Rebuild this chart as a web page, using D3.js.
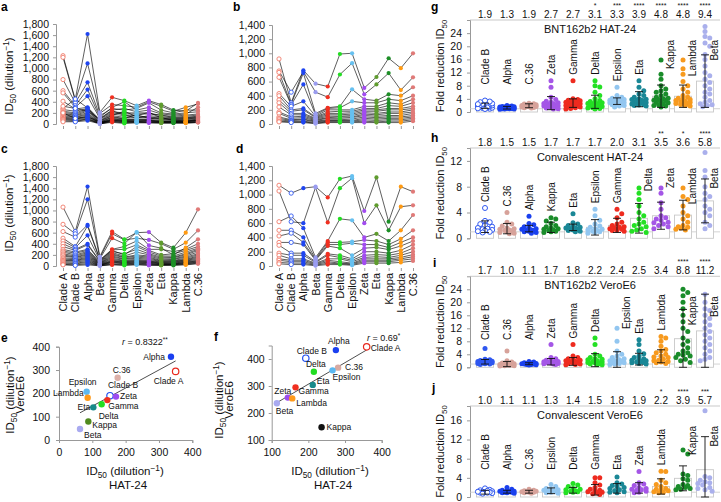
<!DOCTYPE html>
<html><head><meta charset="utf-8">
<script src="https://cdn.jsdelivr.net/npm/d3@7"></script>
<style>body{margin:0;background:#fff}svg{font-family:"Liberation Sans",Arial,Helvetica,sans-serif}</style>
</head><body><svg id="c" width="721" height="502"></svg>
<script>
// ---------------- DATA ----------------
const variants = ["Clade A","Clade B","Alpha","Beta","Gamma","Delta","Epsilon","Zeta","Eta","Kappa","Lambda","C.36"];
const ticks1800 = [0,200,400,600,800,1000,1200,1400,1600,1800];
const ticks1400 = [0,200,400,600,800,1000,1200,1400];

// a: BNT162b2 sera, HAT-24 (ID50 per donor, in variants order)
const donorsA = [
 [1230,440,1620,210,480,420,330,420,350,250,230,380],
 [1200,420,1090,190,350,330,300,400,320,230,300,360],
 [800,380,750,150,280,250,280,380,250,200,250,250],
 [600,330,620,120,300,400,250,300,200,180,200,220],
 [560,300,500,100,250,280,220,250,180,160,180,300],
 [410,270,300,80,220,200,200,200,150,140,160,180],
 [280,450,290,60,200,180,180,180,160,120,140,160],
 [260,230,280,50,180,150,150,210,110,100,120,140],
 [230,200,270,45,160,230,130,130,100,90,100,120],
 [210,180,250,30,150,120,120,120,90,80,90,110],
 [190,160,230,25,130,100,170,100,80,70,80,100],
 [170,150,200,20,120,90,90,90,120,60,60,90],
 [150,130,180,15,100,80,80,80,60,50,50,80],
 [130,120,160,12,90,70,70,70,50,45,45,70],
 [120,100,140,10,80,60,60,60,40,40,40,60],
 [100,90,120,8,70,50,50,50,35,35,35,50],
 [90,80,100,6,60,40,40,40,30,30,30,40],
 [80,60,90,5,50,30,35,30,25,25,25,35],
 [60,50,80,4,40,20,30,25,20,20,20,30],
 [40,40,60,3,30,10,20,20,15,15,15,25],
 [320,280,230,90,240,160,110,150,130,110,110,130],
 [200,100,130,35,60,55,45,60,45,55,70,60]
];
// b: convalescent sera, HAT-24
const donorsB = [
 [920,300,760,570,530,990,1000,510,665,930,790,1000],
 [750,450,740,450,380,700,860,420,560,720,480,660],
 [730,280,720,150,230,250,490,350,330,420,400,520],
 [660,270,560,130,220,230,320,300,300,350,330,400],
 [430,250,320,110,200,200,200,250,250,300,280,350],
 [400,200,220,100,170,180,180,220,220,260,250,300],
 [340,180,200,90,150,150,160,200,200,220,220,250],
 [300,150,150,80,130,130,140,180,180,200,200,220],
 [240,130,130,70,110,110,120,160,150,170,170,200],
 [170,100,110,60,90,100,100,140,130,150,150,170],
 [150,80,90,50,80,80,90,120,110,120,120,150],
 [100,60,70,40,60,60,70,100,90,100,100,120],
 [80,50,60,30,50,50,50,80,70,80,80,100],
 [60,40,40,20,40,40,40,60,50,60,60,80],
 [40,30,30,10,30,30,30,40,30,40,40,60],
 [30,20,20,5,20,20,20,20,20,20,20,40]
];
// c: BNT162b2 sera, VeroE6
const donorsC = [
 [1060,620,1430,170,620,480,600,610,420,330,600,1020],
 [750,580,1200,150,580,470,500,470,400,300,420,640],
 [620,520,740,130,500,400,610,370,320,200,330,480],
 [500,350,720,110,300,350,450,300,300,260,300,400],
 [450,330,550,100,290,300,380,280,200,220,280,350],
 [400,300,400,90,280,200,350,250,180,180,250,320],
 [350,280,380,80,260,220,300,220,160,160,220,300],
 [300,250,300,70,240,180,250,200,140,150,200,280],
 [270,230,280,60,220,160,200,180,120,130,180,250],
 [250,200,260,50,200,150,180,160,100,120,160,220],
 [220,180,240,45,180,130,160,140,90,100,140,200],
 [200,160,220,40,160,120,140,120,80,90,120,180],
 [180,150,200,35,140,100,120,100,70,80,110,160],
 [150,130,180,30,120,90,100,90,60,70,100,140],
 [130,110,160,25,100,80,90,80,50,60,90,120],
 [110,100,140,20,90,70,80,70,45,50,80,100],
 [100,90,120,15,80,60,70,60,40,40,70,90],
 [80,70,100,12,70,50,60,50,30,35,60,80],
 [60,50,80,10,60,40,50,40,25,30,50,70],
 [40,40,60,8,40,30,40,30,20,25,40,60],
 [30,20,40,5,30,20,30,20,15,20,30,50],
 [20,10,20,3,20,10,20,10,10,10,20,40]
];
// d: convalescent sera, VeroE6
const donorsD = [
 [1130,1020,1090,1110,960,1220,1260,770,1240,620,1110,1040],
 [1050,620,600,1100,610,1090,1230,600,850,500,830,850],
 [620,700,530,120,350,660,640,400,450,350,500,714],
 [500,500,400,100,330,330,340,364,350,300,380,500],
 [420,460,330,90,300,300,320,300,300,260,330,400],
 [330,330,300,80,280,250,150,250,260,230,280,350],
 [290,180,180,60,170,150,100,200,200,180,220,300],
 [180,150,150,50,150,120,80,150,160,150,180,250],
 [150,100,100,40,100,100,60,120,130,120,150,200],
 [100,80,80,30,80,60,40,100,100,100,120,160],
 [80,60,60,20,60,40,30,80,80,80,100,130],
 [50,40,40,10,40,30,20,60,60,60,80,100],
 [30,20,20,5,20,20,10,40,40,40,50,70]
];

// e / f: mean ID50 HAT-24 vs VeroE6
const scatterNames = ["Clade A","Clade B","C.36","Alpha","Beta","Gamma","Delta","Epsilon","Zeta","Eta","Kappa","Lambda"];
const eHAT  = [350,153,176,336,63,145,128,83,171,103,88,86];
const eVero = [294,190,267,357,47,171,153,207,186,140,79,181];
const fHAT  = [359,193,281,275,114,165,215,266,144,212,236,156];
const fVero = [445,403,368,433,236,295,353,358,257,304,147,254];
const eR = "0.8322**";
const fR = "0.69*";
const scatterTicksE = [0,100,200,300,400];
const scatterTicksF = [100,200,300,400];

// g: BNT162b2 HAT-24 fold reduction
const gCats  = ["Clade B","Alpha","C.36","Zeta","Gamma","Delta","Epsilon","Eta","Kappa","Lambda","Beta"];
const gMeans = [1.9,1.3,1.9,2.7,2.7,3.1,3.3,3.9,4.8,4.8,9.4];
const gSD    = [0.8,0.4,0.6,2.0,1.3,2.0,1.0,2.3,3.4,3.4,8.0];
const gStars = ["","","","","","*","***","****","****","****","****"];
const gPts = [
 [1,1.2,1.3,1.5,1.6,1.7,1.8,1.9,2,2,2.1,2.2,2.3,2.5,2.6,2.8,3,3.2,1.1,1.4,2.4,0.9,3.5],
 [0.8,0.9,1,1,1.1,1.1,1.2,1.2,1.3,1.3,1.4,1.4,1.5,1.5,1.6,1.7,1.8,2.0,0.9,1.2,1.6],
 [1.2,1.4,1.5,1.6,1.7,1.8,1.9,2,2.1,2.2,2.3,2.5,2.7,1.3,1.8,2.0,2.4,1.6],
 [9.5,7.5,4.5,3.8,3.3,3,2.8,2.5,2.3,2.1,2,1.9,1.8,1.6,1.5,1.4,1.2,1,2.2,2.6,1.7,0.9],
 [9.5,4,3.8,3.6,3.4,3.2,3,2.8,2.6,2.4,2.2,2,1.9,1.7,1.5,1.3,1.1,0.9,2.5,2.9,3.5,1.6],
 [9.5,8,7.6,6,5,4,3.5,3,2.8,2.5,2.2,2,1.8,1.5,1.3,1.1,0.9,2.4,3.2,1.7,2.6,1.2],
 [7.5,5,4.5,4.2,4,3.8,3.6,3.4,3.2,3,2.9,2.8,2.6,2.5,2.3,2.2,2,1.8,3.5,3.1,2.7,1.5],
 [9.5,7.5,6.5,5.5,5,4.5,4,3.8,3.6,3.4,3.2,3,2.8,2.6,2.4,2.2,2,3.5,3.9,2.9,2.1,1.8],
 [15.8,11.5,10,8,7,6.5,6,5.5,5,4.5,4,3.8,3.5,3.2,3,2.8,2.5,2.2,2,1.8,1.5,4.2,3.6],
 [15.8,13.2,11.5,9.3,8,7,6,5,4.5,4,3.8,3.5,3.3,3,2.8,2.5,2.3,2,1.8,4.2,3.1,2.6],
 [26,24.5,23,22.5,21,20,17.5,16,14,12,11,10,9,8,7,5.5,4.5,3.5,2.5,2,2.2,3,6,1.6]
];
// h: convalescent HAT-24
const hCats  = ["Clade B","C.36","Alpha","Kappa","Eta","Epsilon","Gamma","Delta","Zeta","Lambda","Beta"];
const hMeans = [1.8,1.5,1.5,1.7,1.7,1.7,2.0,3.1,3.5,3.6,5.8];
const hSD    = [0.9,0.8,0.5,0.8,0.5,1.2,1.1,2.3,2.1,2.3,3.4];
const hStars = ["","","","","","","","","**","*","****"];
const hPts = [
 [4.7,2.7,2.5,2.2,2,1.8,1.6,1.5,1.4,1.3,1.2,1.0,0.9,1.1],
 [4,2.5,2.2,1.9,1.6,1.4,1.3,1.2,1.1,1,0.9,0.8,0.7,1.5],
 [3.4,2.3,2.1,1.8,1.6,1.5,1.4,1.3,1.2,1.1,1,0.9,0.8,1.2],
 [3.2,3,2.7,2.3,2,1.8,1.6,1.4,1.3,1.2,1.1,1,0.9,1.5],
 [3.8,2.4,2.2,2,1.8,1.7,1.6,1.5,1.4,1.3,1.2,1.1,1.0,1.6],
 [4.5,3.5,2.8,2.2,1.9,1.7,1.5,1.3,1.2,1.1,1,0.9,0.8,1.4],
 [4.5,3.8,3.2,2.5,2.2,2,1.8,1.7,1.6,1.5,1.4,1.3,1.2,1.1],
 [7.8,7,6,5,4,3.5,3,2.5,2,1.5,1.3,1.1,0.9,1.8,2.2],
 [7.8,7,5.5,4.5,3.5,3.2,3,2.8,2.5,2.2,2,1.8,1.5,2.4],
 [7.8,6.5,6,5,4,3.5,3,2.5,2,1.8,1.6,1.4,1.3,1.7],
 [13.3,10.5,9.5,8,7,6.5,6,5,4,3.5,2.5,2,1.5,4.5]
];
// i: BNT162b2 VeroE6
const iCats  = ["Clade B","C.36","Alpha","Zeta","Gamma","Delta","Epsilon","Eta","Lambda","Kappa","Beta"];
const iMeans = [1.7,1.0,1.1,1.7,1.8,2.2,2.4,2.5,3.4,8.8,11.2];
const iSD    = [0.7,0.8,0.3,1.0,1.2,2.0,2.4,1.8,2.0,9.0,11.3];
const iStars = ["","","","","","","","","","****","****"];
const iPts = [
 [5.8,2.5,2.3,2.1,2,1.9,1.8,1.7,1.6,1.5,1.4,1.3,1.2,1.1,1,0.9,1.5,1.8],
 [5,2,1.6,1.3,1.1,1,0.9,0.8,0.7,0.6,0.5,0.4,0.5,0.8,1.2],
 [1.8,1.6,1.4,1.3,1.2,1.1,1,0.9,0.8,0.7,1,1.2,1.1,0.9],
 [7,3,2.6,2.2,2,1.8,1.6,1.5,1.4,1.3,1.2,1.1,1,0.9,1.5,1.7],
 [7,3.5,3,2.6,2.3,2,1.8,1.6,1.4,1.2,1,0.9,0.8,1.5,2.2],
 [9,7,4,3.5,3,2.6,2.3,2,1.8,1.6,1.4,1.2,1,0.9,0.8,1.5,2.5],
 [12,8,5,4,3.5,3,2.6,2.3,2,1.8,1.6,1.4,1.2,1,0.9,1.5,2.1],
 [8.5,7,5,4.2,3.5,3,2.6,2.3,2,1.8,1.6,1.4,1.2,1,1.5,2.2],
 [9.5,9,8,6.5,5.5,5,4.5,4,3.5,3,2.5,2.2,2,1.8,1.6,1.4,1.2,3.2],
 [24,23,22,20,18,16,14,12,11,9,8,7,6,5,4,3.5,3,2.5,2,1.5,4.5,3.8],
 [22.5,20,18,17.5,16,15,14,13,12,11,10,9,8,7,6,5,4,3,2.5,2]
];
// j: convalescent VeroE6
const jCats  = ["Clade B","Alpha","C.36","Epsilon","Delta","Gamma","Eta","Zeta","Lambda","Kappa","Beta"];
const jMeans = [1.0,1.1,1.1,1.3,1.4,1.5,1.8,1.9,2.2,3.9,5.7];
const jSD    = [0.4,0.3,0.3,0.6,0.6,1.1,1.0,1.1,1.6,2.6,6.9];
const jStars = ["","","","","","","","","*","****","***"];
const jPts = [
 [1.8,1.5,1.4,1.2,1.1,1,0.9,0.8,0.7,1,1.3,0.9,1.1],
 [2,1.6,1.4,1.2,1.1,1,0.9,0.8,1,1.2,1.3,0.9],
 [1.6,1.4,1.3,1.2,1.1,1,0.9,0.8,1,1.2,1.1],
 [2.6,2.2,1.8,1.5,1.3,1.2,1.1,1,0.9,0.8,1.4,1.6],
 [2.8,2.5,2.2,1.8,1.5,1.3,1.2,1.1,1,0.9,1.6],
 [4,4,3,2.5,2,1.6,1.3,1.1,1,0.9,0.7,0.5,1.4],
 [4.2,3,2.7,2.4,2,1.8,1.5,1.3,1.1,1,0.9,2.2],
 [5.3,3,2.7,2.4,2,1.8,1.6,1.4,1.2,1,0.9,1.5],
 [5.4,5.3,3.5,3,2.6,2.2,1.8,1.5,1.3,1.1,1,0.9,1.6],
 [9.8,9,4.8,4.5,3.8,3.5,2.6,2.2,2,1.8,1.6,1.5,2.4],
 [18,4.3,4,3.5,3,2.8,2.5,2,1.8,1.5,1.2,3.2]
];
const ticks28 = [0,4,8,12,16,20,24];
const ticks14 = [0,4,8,12];
const ticks19 = [0,4,8,12,16];

// ---------------- STYLE ----------------
const lineColors = {"Clade A":"#f07a6a","Clade B":"#2f57f0","Alpha":"#1f45f0","Beta":"#9a9cf0","Gamma":"#f03020",
 "Delta":"#22dd22","Epsilon":"#66c0f0","Zeta":"#a24cf0","Eta":"#5f9c2e","Kappa":"#1d8f27","Lambda":"#ff9a12","C.36":"#e07a78"};
const barColors = {"Clade B":"#2f57f0","Alpha":"#1a40ee","C.36":"#d7a29a","Zeta":"#a456e6","Gamma":"#ee2b1f",
 "Delta":"#24e024","Epsilon":"#92c6f0","Eta":"#1a8796","Kappa":"#1a8c2a","Lambda":"#f79a1e","Beta":"#aab0ec"};
const scColors = {"Clade A":"#e8281e","Clade B":"#2350f0","C.36":"#dcb0a8","Alpha":"#1a3ff0","Beta":"#a9aaf0",
 "Gamma":"#f03020","Delta":"#22dd22","Epsilon":"#5cb8f0","Zeta":"#9c4cf0","Eta":"#178a8a","Kappa":"#4f8a1e","Lambda":"#ff9a1a"};

const svg = d3.select("#c");
function styleAxis(a, fs){
  a.select(".domain").attr("stroke","#999");
  a.selectAll(".tick line").attr("stroke","#999");
  a.selectAll(".tick text").attr("font-size",fs||10).attr("fill","#111").attr("font-family",null);
}
function letter(t,x,y){ svg.append("text").attr("x",x).attr("y",y).attr("font-weight","bold").attr("font-size",12).text(t); }
function idText(sel){
  sel.append("tspan").text("ID");
  sel.append("tspan").attr("dy",2.5).attr("font-size","0.72em").text("50");
  sel.append("tspan").attr("dy",-2.5).text(" (dilution");
  sel.append("tspan").attr("dy",-4).attr("font-size","0.72em").text("\u22121");
  sel.append("tspan").attr("dy",4).text(")");
}

// ---------------- LINE PANELS ----------------
function linePanel(o){
  const x = d3.scalePoint().domain(variants).range(o.xr);
  const y = d3.scaleLinear().domain([0,o.yMax]).range(o.yr);
  const g = svg.append("g");
  const ax = g.append("g").attr("transform",`translate(${o.xr[0]-7},0)`)
    .call(d3.axisLeft(y).tickValues(o.ticks).tickFormat(d3.format(",")).tickSize(3).tickPadding(4));
  styleAxis(ax, 10.5);
  const bx = g.append("g").attr("transform",`translate(0,${o.yr[0]+2})`)
    .call(d3.axisBottom(x).tickSize(3).tickFormat(""));
  bx.select(".domain").remove(); bx.selectAll(".tick line").attr("stroke","#999");
  if(o.labels){
    g.selectAll("text.xl").data(variants).join("text")
      .attr("transform",d=>`translate(${x(d)+4},${o.yr[0]+7}) rotate(-90)`)
      .attr("text-anchor","end").attr("font-size",11).attr("fill","#111").text(d=>d);
  }
  const line = d3.line().x((d,i)=>x(variants[i])).y(d=>y(d));
  g.selectAll("path.dn").data(o.donors).join("path").attr("d",line)
    .attr("fill","none").attr("stroke","#000").attr("stroke-width",0.7).attr("stroke-opacity",0.9);
  variants.forEach((v,i)=>{
    const open = (v==="Clade A"||v==="Clade B");
    g.append("g").selectAll("circle").data(o.donors.map(d=>d[i])).join("circle")
      .attr("cx",x(v)).attr("cy",d=>y(d)).attr("r",2.1)
      .attr("fill",open?"#fff":lineColors[v]).attr("stroke",lineColors[v]).attr("stroke-width",open?0.9:0);
  });
  if(o.ylab){
    const t = g.append("text").attr("transform",`translate(13,${o.ylabY}) rotate(-90)`)
      .attr("text-anchor","middle").attr("font-size",11.5).attr("fill","#111");
    idText(t);
  }
}
linePanel({donors:donorsA,xr:[63,198],yr:[124,24],yMax:1800,ticks:ticks1800,labels:false,ylab:true,ylabY:76});
linePanel({donors:donorsB,xr:[279,413],yr:[124,25],yMax:1400,ticks:ticks1400,labels:false,ylab:false});
linePanel({donors:donorsC,xr:[63,198],yr:[266,166],yMax:1800,ticks:ticks1800,labels:true,ylab:true,ylabY:213});
linePanel({donors:donorsD,xr:[279,413],yr:[266,166],yMax:1400,ticks:ticks1400,labels:true,ylab:false});

// ---------------- SCATTER PANELS ----------------
function scatterPanel(o){
  const x = d3.scaleLinear().domain(o.xd).range(o.xr);
  const y = d3.scaleLinear().domain(o.yd).range(o.yr);
  const g = svg.append("g");
  const ax = g.append("g").attr("transform",`translate(0,${o.yr[0]})`)
    .call(d3.axisBottom(x).tickValues(o.ticks).tickSize(3).tickPadding(6));
  styleAxis(ax, 10.5);
  const ay = g.append("g").attr("transform",`translate(${o.xr[0]},0)`)
    .call(d3.axisLeft(y).tickValues(o.ticks).tickSize(3).tickPadding(o.yPad));
  styleAxis(ay, 10.5);
  const mx = d3.mean(o.xs), my = d3.mean(o.ys);
  let sxy=0,sxx=0; o.xs.forEach((v,i)=>{sxy+=(v-mx)*(o.ys[i]-my); sxx+=(v-mx)*(v-mx);});
  const b = sxy/sxx, a0 = my - b*mx;
  const x1 = d3.min(o.xs), x2 = d3.max(o.xs);
  g.append("line").attr("x1",x(x1)).attr("y1",y(a0+b*x1)).attr("x2",x(x2)).attr("y2",y(a0+b*x2))
    .attr("stroke","#222").attr("stroke-width",0.8);
  scatterNames.forEach((n,i)=>{
    const open = (n==="Clade A"||n==="Clade B");
    const col = (o.colors&&o.colors[n])||scColors[n];
    g.append("circle").attr("cx",x(o.xs[i])).attr("cy",y(o.ys[i])).attr("r",3.2)
      .attr("fill",open?"#fff":col).attr("stroke",col).attr("stroke-width",open?1.2:0);
    const off = o.off[n];
    g.append("text").attr("x",x(o.xs[i])+off[0]).attr("y",y(o.ys[i])+off[1]).attr("text-anchor",off[2])
      .attr("font-size",8.5).attr("fill","#111").text(n);
  });
  const rt = g.append("text").attr("x",o.rPos[0]).attr("y",o.rPos[1]).attr("font-size",9).attr("fill","#111");
  rt.append("tspan").attr("font-style","italic").text("r");
  rt.append("tspan").text(" = " + o.r.replace(/\*+$/,""));
  rt.append("tspan").attr("dy",-3).attr("font-size","0.7em").text(o.r.match(/\*+$/)[0]);
  const xl = g.append("text").attr("x",o.xlabX).attr("y",475).attr("text-anchor","middle").attr("font-size",11.5).attr("fill","#111");
  idText(xl);
  g.append("text").attr("x",o.xlabX+3).attr("y",489).attr("text-anchor","middle").attr("font-size",11.5).attr("fill","#111").text("HAT-24");
  const yl = g.append("text").attr("transform",`translate(${o.ylabX},${o.ylabY}) rotate(-90)`).attr("text-anchor","middle").attr("font-size",11.5).attr("fill","#111");
  idText(yl);
  g.append("text").attr("transform",`translate(${o.ylabX+10},${o.ylabY}) rotate(-90)`).attr("text-anchor","middle").attr("font-size",11.5).attr("fill","#111").text("VeroE6");
}
scatterPanel({xs:eHAT,ys:eVero,xd:[0,400],xr:[59,192.3],yd:[0,400],yr:[440,346.7],ticks:scatterTicksE,yPad:6,
  r:eR,rPos:[122,345],xlabX:125,ylabX:14,ylabY:395,
  off:{"Alpha":[-6,3.5,"end"],"Clade A":[-22,13,"start"],"C.36":[-5,-5,"start"],"Clade B":[-2,-7.5,"start"],
   "Zeta":[4,2,"start"],"Gamma":[1,8.5,"start"],"Delta":[-3,14.5,"start"],"Epsilon":[-4,-7,"middle"],
   "Lambda":[-4,-2,"end"],"Eta":[-3,3,"end"],"Kappa":[4,6.5,"start"],"Beta":[4,9,"start"]}});
scatterPanel({xs:fHAT,ys:fVero,xd:[100,400],xr:[271.7,381.7],yd:[100,450],yr:[440,345.5],ticks:scatterTicksF,yPad:4,
  r:fR,rPos:[367,341],xlabX:330,ylabX:223,ylabY:400,colors:{"Kappa":"#111","C.36":"#d8aaa2"},
  off:{"Alpha":[3,-6,"middle"],"Clade B":[6,-4,"middle"],"Delta":[2,-5,"middle"],"Epsilon":[0,10,"start"],
   "C.36":[7,2,"start"],"Eta":[4,-1,"start"],"Gamma":[3,7,"start"],"Zeta":[-5,-4,"middle"],"Lambda":[4,8,"start"],
   "Beta":[-1,11,"start"],"Kappa":[5,3,"start"],"Clade A":[4,4,"start"]}});

// ---------------- BAR / DOT PANELS ----------------
function swarm(vals, yS, r, maxOff){
  const idx = vals.map((v,i)=>i).sort((a,b)=>vals[b]-vals[a]);
  const placed=[], out=new Array(vals.length), d=r*1.9;
  const offs=[0,d,-d,2*d,-2*d,0.5*d,-0.5*d,1.5*d,-1.5*d,2.5*d,-2.5*d,3*d,-3*d];
  for(const i of idx){
    const cy=yS(vals[i]); let best=0, bs=-1;
    for(const o of offs){
      if(Math.abs(o)>maxOff) continue;
      let mn=Infinity; for(const p of placed){const dd=Math.hypot(p.x-o,p.y-cy); if(dd<mn) mn=dd;}
      if(mn>=2*r*0.92){best=o;bs=Infinity;break;}
      if(mn>bs){bs=mn;best=o;}
    }
    placed.push({x:best,y:cy}); out[i]={dx:best,y:cy};
  }
  return out;
}
function barPanel(o){
  const x = d3.scalePoint().domain(o.cats).range([485,705]);
  const y = d3.scaleLinear().domain([0,o.yMax]).range(o.yr);
  const top = o.yr[1], g = svg.append("g");
  g.append("line").attr("x1",470).attr("x2",720).attr("y1",top).attr("y2",top).attr("stroke","#bbb").attr("stroke-width",0.8);
  const ay = g.append("g").attr("transform","translate(470,0)")
    .call(d3.axisLeft(y).tickValues(o.ticks).tickSize(3).tickPadding(5));
  styleAxis(ay, 10.5);
  g.append("line").attr("x1",470).attr("x2",720).attr("y1",y(1)).attr("y2",y(1)).attr("stroke","#c8c8c8").attr("stroke-width",0.8);
  const bw=17, r=2.5;
  o.cats.forEach((c,k)=>{
    const cx = x(c);
    g.append("rect").attr("x",cx-bw/2).attr("y",y(o.means[k])).attr("width",bw).attr("height",y(0)-y(o.means[k]))
      .attr("fill","#fff").attr("stroke","#c8c8c8").attr("stroke-width",0.9);
    const open = (c==="Clade B" && o.openB);
    const sw = swarm(o.pts[k], y, r, 8);
    sw.forEach(p=>{
      g.append("circle").attr("cx",cx+p.dx).attr("cy",p.y).attr("r",r)
        .attr("fill",open?"#fff":barColors[c]).attr("stroke",barColors[c]).attr("stroke-width",open?1:0);
    });
  });
  o.cats.forEach((c,k)=>{
    const cx=x(c), hi=y(o.means[k]+o.sd[k]), lo=y(Math.max(0,o.means[k]-o.sd[k]));
    g.append("line").attr("x1",cx).attr("x2",cx).attr("y1",hi).attr("y2",lo).attr("stroke","#111").attr("stroke-width",0.9);
    [hi,lo].forEach(yy=>g.append("line").attr("x1",cx-4).attr("x2",cx+4).attr("y1",yy).attr("y2",yy).attr("stroke","#111").attr("stroke-width",0.9));
    g.append("text").attr("x",cx).attr("y",top-2).attr("text-anchor","middle").attr("font-size",10).attr("fill","#111").text(d3.format(".1f")(o.means[k]));
    if(o.stars[k]) g.append("text").attr("x",cx).attr("y",top-12.5).attr("text-anchor","middle").attr("font-size",7).attr("fill","#111").text(o.stars[k]);
  });
  const titleBottom = top+17;
  g.append("text").attr("x",590).attr("y",top+13).attr("text-anchor","middle").attr("font-size",11).attr("fill","#111").text(o.title);
  o.cats.forEach((c,k)=>{
    const cx=x(c);
    const t = g.append("text").attr("font-size",10).attr("fill","#111").text(c);
    const L = t.node().getComputedTextLength();
    let bottom = Math.min(y(d3.max(o.pts[k]))-6, y(o.yMax*0.3));
    let lx = cx+3.6;
    if(bottom-L < titleBottom){ bottom = titleBottom+L+3; lx = cx+13; }
    t.attr("transform",`translate(${lx},${bottom}) rotate(-90)`);
  });
  const yl = g.append("text").attr("transform",`translate(444,${(o.yr[0]+top)/2}) rotate(-90)`).attr("text-anchor","middle").attr("font-size",11).attr("fill","#111");
  yl.append("tspan").text("Fold reduction ID");
  yl.append("tspan").attr("dy",2.5).attr("font-size","0.72em").text("50");
}
barPanel({cats:gCats,means:gMeans,sd:gSD,stars:gStars,pts:gPts,yMax:28,yr:[112,20],ticks:ticks28,title:"BNT162b2 HAT-24",openB:true});
barPanel({cats:hCats,means:hMeans,sd:hSD,stars:hStars,pts:hPts,yMax:14,yr:[238.3,148],ticks:ticks14,title:"Convalescent HAT-24",openB:true});
barPanel({cats:iCats,means:iMeans,sd:iSD,stars:iStars,pts:iPts,yMax:28,yr:[367.3,276.3],ticks:ticks28,title:"BNT162b2 VeroE6",openB:false});
barPanel({cats:jCats,means:jMeans,sd:jSD,stars:jStars,pts:jPts,yMax:19,yr:[497,406],ticks:ticks19,title:"Convalescent VeroE6",openB:true});

// panel letters
letter("a",1,11); letter("b",233,11); letter("c",1,153); letter("d",236,153);
letter("e",1,342); letter("f",214,341); letter("g",431,11); letter("h",431,142); letter("i",433,267); letter("j",432,392);
</script></body></html>
